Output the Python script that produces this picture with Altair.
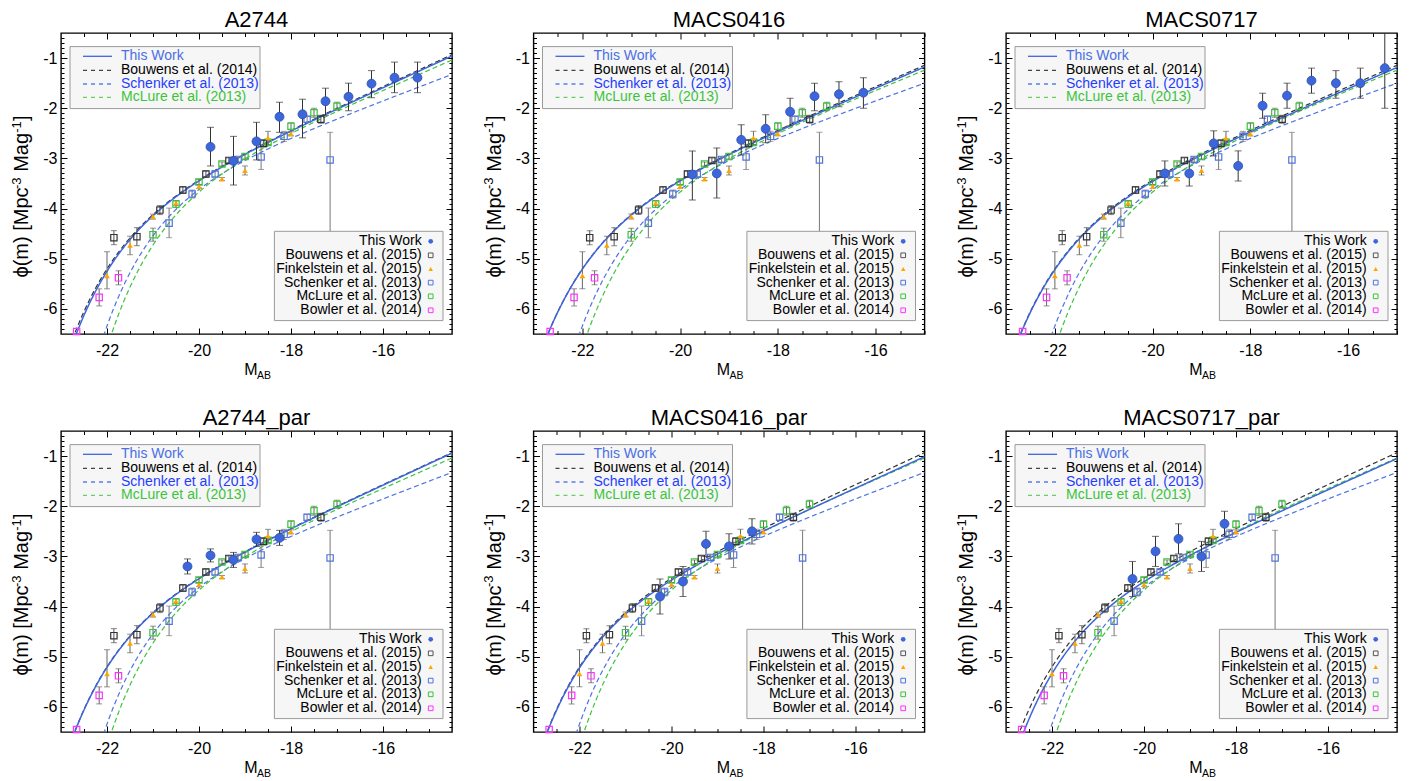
import numpy as np
import pandas as pd
import altair as alt

FONT = "Liberation Sans"
W, H = 391, 301
Y_DOM = [-6.5, -0.5]

PANELS = ["A2744", "MACS0416", "MACS0717", "A2744_par", "MACS0416_par", "MACS0717_par"]
X_MIN = [-23.0, -23.0, -23.0, -23.0, -23.0, -23.0]
X_MAX = [-14.5, -15.0, -15.0, -14.5, -14.5, -14.5]

X_MAJOR = [-22, -20, -18, -16]
X_MINOR = [-22.5, -21.5, -21, -20.5, -19.5, -19, -18.5, -17.5, -17, -16.5, -15.5, -15]
Y_MAJOR = [-6, -5, -4, -3, -2, -1]
Y_MINOR = [round(-6.4 + 0.1 * i, 1) for i in range(59)]

# ---------------- literature points (same in every panel) ----------------
B15_M = [-21.85, -21.35, -20.85, -20.35, -19.85, -19.35, -18.6, -17.35]
B15_PHI = [-4.58, -4.56, -4.03, -3.63, -3.31, -3.04, -2.70, -2.22]
B15_ERR = [0.14, 0.18, 0.09, 0.07, 0.06, 0.05, 0.07, 0.08]

F15_M = [-22.0, -21.5, -21.0, -20.5, -20.0, -19.5, -19.0, -18.5, -18.0]
F15_PHI = [-5.34, -4.73, -4.16, -3.89, -3.56, -3.41, -3.24, -2.59, -2.51]
F15_HI = [-4.86, -4.55, -4.11, -3.84, -3.52, -3.38, -3.15, -2.46, -2.47]
F15_LO = [-5.60, -4.92, -4.21, -3.94, -3.60, -3.44, -3.33, -2.73, -2.55]

S13_M = [-20.65, -20.15, -19.65, -19.15, -18.65, -18.15, -17.65, -17.15]
S13_PHI = [-4.29, -3.71, -3.31, -3.02, -2.97, -2.56, -2.22, -3.03]
S13_HI = [-3.99, -3.63, -3.25, -2.97, -2.72, -2.46, -2.16, -2.48]
S13_LO = [-4.58, -3.79, -3.37, -3.07, -3.22, -2.66, -2.28, -4.70]

M13_M = [-21.0, -20.5, -20.0, -19.5, -19.0, -18.5, -18.0, -17.5, -17.0]
M13_PHI = [-4.52, -3.91, -3.47, -3.11, -2.96, -2.68, -2.36, -2.09, -1.96]
M13_ERR = [0.13, 0.07, 0.05, 0.04, 0.05, 0.06, 0.07, 0.09, 0.08]

BO14_M = [-22.66, -22.17, -21.75]
BO14_PHI = [-6.45, -5.77, -5.38]
BO14_ERR = [0.0, 0.17, 0.14]

# ---------------- This Work points, per field ----------------
TW_M_A2744 = [-19.75, -19.25, -18.75, -18.25, -17.75, -17.25, -16.75, -16.25, -15.75, -15.25]
TW_PHI_A2744 = [-2.77, -3.05, -2.66, -2.17, -2.12, -1.86, -1.77, -1.51, -1.39, -1.39]
TW_HI_A2744 = [-2.38, -2.56, -2.28, -1.88, -1.82, -1.60, -1.50, -1.25, -1.08, -1.08]
TW_LO_A2744 = [-3.15, -3.53, -3.03, -2.48, -2.59, -2.14, -2.05, -1.79, -1.69, -1.69]

TW_M_MACS0416 = [-19.75, -19.25, -18.75, -18.25, -17.75, -17.25, -16.75, -16.25]
TW_PHI_MACS0416 = [-3.32, -3.30, -2.63, -2.41, -2.07, -1.76, -1.72, -1.69]
TW_HI_MACS0416 = [-2.85, -2.79, -2.33, -2.13, -1.80, -1.50, -1.47, -1.39]
TW_LO_MACS0416 = [-3.83, -3.79, -2.93, -2.69, -2.35, -2.05, -1.97, -2.00]

TW_M_MACS0717 = [-19.75, -19.25, -18.75, -18.25, -17.75, -17.25, -16.75, -16.25, -15.75, -15.25]
TW_PHI_MACS0717 = [-3.30, -3.30, -2.70, -3.15, -1.95, -1.75, -1.45, -1.50, -1.50, -1.20]
TW_HI_MACS0717 = [-3.05, -3.05, -2.45, -2.85, -1.70, -1.50, -1.20, -1.25, -1.20, -0.50]
TW_LO_MACS0717 = [-3.55, -3.55, -2.95, -3.45, -2.20, -2.00, -1.70, -1.80, -1.80, -2.00]

TW_M_A2744_par = [-20.25, -19.75, -19.25, -18.75, -18.25]
TW_PHI_A2744_par = [-3.20, -2.98, -3.07, -2.66, -2.63]
TW_HI_A2744_par = [-3.05, -2.85, -2.92, -2.52, -2.48]
TW_LO_A2744_par = [-3.35, -3.11, -3.22, -2.80, -2.78]

TW_M_MACS0416_par = [-20.25, -19.75, -19.25, -18.75, -18.25]
TW_PHI_MACS0416_par = [-3.80, -3.50, -2.75, -2.80, -2.50]
TW_HI_MACS0416_par = [-3.45, -3.20, -2.50, -2.55, -2.25]
TW_LO_MACS0416_par = [-4.15, -3.80, -3.00, -3.05, -2.75]

TW_M_MACS0717_par = [-20.25, -19.75, -19.25, -18.75, -18.25]
TW_PHI_MACS0717_par = [-3.45, -2.90, -2.65, -3.00, -2.35]
TW_HI_MACS0717_par = [-3.10, -2.60, -2.35, -2.70, -2.10]
TW_LO_MACS0717_par = [-3.80, -3.20, -2.95, -3.30, -2.60]

TW_M = [TW_M_A2744, TW_M_MACS0416, TW_M_MACS0717, TW_M_A2744_par, TW_M_MACS0416_par, TW_M_MACS0717_par]
TW_PHI = [TW_PHI_A2744, TW_PHI_MACS0416, TW_PHI_MACS0717, TW_PHI_A2744_par, TW_PHI_MACS0416_par, TW_PHI_MACS0717_par]
TW_HI = [TW_HI_A2744, TW_HI_MACS0416, TW_HI_MACS0717, TW_HI_A2744_par, TW_HI_MACS0416_par, TW_HI_MACS0717_par]
TW_LO = [TW_LO_A2744, TW_LO_MACS0416, TW_LO_MACS0717, TW_LO_A2744_par, TW_LO_MACS0416_par, TW_LO_MACS0717_par]

# ---------------- Schechter fits (M*, log phi*, alpha) ----------------
FIT_B14 = [-21.0, -3.65, -2.06]
FIT_S13 = [-20.14, -3.25, -1.87]
FIT_M13 = [-20.0, -3.20, -2.00]
FIT_TW = [
    [-20.95, -3.63, -2.05],
    [-21.0, -3.66, -2.05],
    [-21.0, -3.67, -2.05],
    [-21.0, -3.66, -2.06],
    [-21.0, -3.68, -2.04],
    [-20.9, -3.65, -2.03],
]

C_TW = "#3d66dc"
C_TW_EDGE = "#2c4fa8"
C_B = "#333333"
C_S = "#4f74e0"
C_M = "#3cc43c"
C_BO = "#ff33ff"
C_F = "#ffa500"

DUMMY = pd.DataFrame({"k": [0]})
YS = alt.Scale(domain=Y_DOM, nice=False, zero=False)


def xs(dom):
    return alt.Scale(domain=dom, nice=False, zero=False)


def schechter(params):
    ms, lp, a = params
    m = np.arange(-23.5, -13.98, 0.02)
    x = 10 ** (-0.4 * (m - ms))
    lphi = np.log10(0.4 * np.log(10)) + lp + (a + 1) * np.log10(x) - x / np.log(10)
    df = pd.DataFrame({"M": m, "phi": lphi})
    return df[df.phi > -8]


def xy(dom, xf="M", yf="phi"):
    return dict(x=alt.X(f"{xf}:Q", scale=xs(dom), axis=None),
                y=alt.Y(f"{yf}:Q", scale=YS, axis=None))


def curve(params, dom, color, dash=None, width=1.2):
    kw = dict(color=color, strokeWidth=width, clip=True)
    if dash:
        kw["strokeDash"] = dash
    return alt.Chart(schechter(params)).mark_line(**kw).encode(**xy(dom))


def errbars(m, phi, lo, hi, dom, color, cap=6):
    df = pd.DataFrame({"M": m, "phi": phi, "lo": lo, "hi": hi})
    df = df[df.lo != df.hi]
    rule = alt.Chart(df).mark_rule(color=color, strokeWidth=1, clip=True).encode(
        x=alt.X("M:Q", scale=xs(dom), axis=None),
        y=alt.Y("lo:Q", scale=YS, axis=None), y2="hi:Q")
    t1 = alt.Chart(df).mark_tick(color=color, orient="horizontal", size=cap, thickness=1, clip=True).encode(
        x=alt.X("M:Q", scale=xs(dom), axis=None), y=alt.Y("lo:Q", scale=YS, axis=None))
    t2 = alt.Chart(df).mark_tick(color=color, orient="horizontal", size=cap, thickness=1, clip=True).encode(
        x=alt.X("M:Q", scale=xs(dom), axis=None), y=alt.Y("hi:Q", scale=YS, axis=None))
    return [rule, t1, t2]


def pts(m, phi, dom, **mk):
    df = pd.DataFrame({"M": m, "phi": phi})
    return alt.Chart(df).mark_point(opacity=1, **mk).encode(**xy(dom))


def sym(x, y, **mk):
    return alt.Chart(DUMMY).mark_point(opacity=1, **mk).encode(x=alt.value(x), y=alt.value(y))


def txt(x, y, s, size=14, color="black", align="left", baseline="middle", angle=0):
    kw = dict(text=s, font=FONT, fontSize=size, color=color, align=align, baseline=baseline)
    if angle:
        kw["angle"] = angle
    return alt.Chart(DUMMY).mark_text(**kw).encode(x=alt.value(x), y=alt.value(y))


def box(x1, x2, y1, y2):
    return alt.Chart(DUMMY).mark_rect(fill="#f6f6f6", stroke="#9a9a9a", strokeWidth=1).encode(
        x=alt.value(x1), x2=alt.value(x2), y=alt.value(y1), y2=alt.value(y2))


def hline(x1, x2, y, color, dash=None, width=1.2):
    kw = dict(color=color, strokeWidth=width)
    if dash:
        kw["strokeDash"] = dash
    return alt.Chart(DUMMY).mark_rule(**kw).encode(x=alt.value(x1), x2=alt.value(x2), y=alt.value(y))


def axis_layer(dom, xaxis, yaxis):
    df = pd.DataFrame({"M": [dom[0]], "phi": [Y_DOM[0]]})
    return alt.Chart(df).mark_point(opacity=0, size=1).encode(
        x=alt.X("M:Q", scale=xs(dom), axis=xaxis),
        y=alt.Y("phi:Q", scale=YS, axis=yaxis))


def tick_axis(orient, values, size):
    return alt.Axis(orient=orient, values=values, ticks=True, tickSize=size, tickWidth=1,
                    tickColor="black", labels=False, domain=False, grid=False,
                    offset=-size, title=None)


# y-axis title pieces: (text, font size, raised?) and the advance to the next piece
YTITLE = [("ϕ(m) [Mpc", 20, False), ("-3", 13, True), ("Mag", 20, False), ("-1", 13, True), ("]", 20, False)]
YTITLE_ADV = [88.5, 17.2, 39.0, 11.8, 5.6]


def ytitle():
    layers = []
    y = H / 2 + 13 + sum(YTITLE_ADV) / 2
    for (s, fs, up), w in zip(YTITLE, YTITLE_ADV):
        x = -40.5 if up else -33.0
        layers.append(txt(x, y, s, fs, "black", align="left", baseline="alphabetic", angle=270))
        y -= w
    return layers


def panel(i):
    dom = [X_MIN[i], X_MAX[i]]
    L = []
    # fitted curves
    L.append(curve(FIT_S13, dom, C_S, [5, 3]))
    L.append(curve(FIT_M13, dom, C_M, [5, 3]))
    L.append(curve(FIT_B14, dom, C_B, [5, 3]))
    L.append(curve(FIT_TW[i], dom, C_TW, None, 1.5))
    # error bars of literature
    L += errbars(B15_M, B15_PHI, [p - e for p, e in zip(B15_PHI, B15_ERR)],
                 [p + e for p, e in zip(B15_PHI, B15_ERR)], dom, "#555555")
    L += errbars(F15_M, F15_PHI, F15_LO, F15_HI, dom, "#666666")
    L += errbars(S13_M, S13_PHI, S13_LO, S13_HI, dom, "#777777")
    L += errbars(M13_M, M13_PHI, [p - e for p, e in zip(M13_PHI, M13_ERR)],
                 [p + e for p, e in zip(M13_PHI, M13_ERR)], dom, "#666666")
    L += errbars(BO14_M, BO14_PHI, [p - e for p, e in zip(BO14_PHI, BO14_ERR)],
                 [p + e for p, e in zip(BO14_PHI, BO14_ERR)], dom, "#666666")
    # literature points
    L.append(pts(M13_M, M13_PHI, dom, shape="square", size=40, filled=False, color=C_M, strokeWidth=1.2))
    L.append(pts(S13_M, S13_PHI, dom, shape="square", size=40, filled=False, color=C_S, strokeWidth=1.2))
    L.append(pts(B15_M, B15_PHI, dom, shape="square", size=40, filled=False, color=C_B, strokeWidth=1.2))
    L.append(pts(BO14_M, BO14_PHI, dom, shape="square", size=40, filled=False, color=C_BO, strokeWidth=1.2))
    L.append(pts(F15_M, F15_PHI, dom, shape="triangle-up", size=32, filled=True, color=C_F))
    # This Work
    L += errbars(TW_M[i], TW_PHI[i], TW_LO[i], TW_HI[i], dom, "#333333", cap=7)
    L.append(pts(TW_M[i], TW_PHI[i], dom, shape="circle", size=80, filled=True,
                 fill=C_TW, stroke=C_TW_EDGE, strokeWidth=0.8))

    # legend of the fitted curves (top-left)
    L.append(box(9, 199, 13.6, 75.6))
    rows = [23.3, 37.3, 51.0, 64.3]
    items = [("This Work", "#4a6fe3", C_TW, None),
             ("Bouwens et al. (2014)", "black", "#444444", [4, 4]),
             ("Schenker et al. (2013)", "#1f3dff", "#5b7fe8", [4, 4]),
             ("McLure et al. (2013)", "#3cc43c", "#66d066", [4, 4])]
    for (lab, tc, lc, dash), yy in zip(items, rows):
        L.append(hline(22, 51, yy, lc, dash, 1.3))
        L.append(txt(60, yy, lab, 14, tc))

    # legend of the points (bottom-right)
    L.append(box(213.4, 382, 198.3, 287.6))
    rows2 = [208.3, 222.3, 236.0, 249.6, 263.3, 277.3]
    labs2 = ["This Work", "Bouwens et al. (2015)", "Finkelstein et al. (2015)",
             "Schenker et al. (2013)", "McLure et al. (2013)", "Bowler et al. (2014)"]
    for lab, yy in zip(labs2, rows2):
        L.append(txt(360.7, yy, lab, 14, "black", align="right"))
    mx = 369.7
    L.append(sym(mx, rows2[0], shape="circle", size=22, filled=True, color=C_TW))
    L.append(sym(mx, rows2[1], shape="square", size=22, filled=False, color="#555555", strokeWidth=1))
    L.append(sym(mx, rows2[2], shape="triangle-up", size=20, filled=True, color=C_F))
    L.append(sym(mx, rows2[3], shape="square", size=22, filled=False, color=C_S, strokeWidth=1))
    L.append(sym(mx, rows2[4], shape="square", size=22, filled=False, color=C_M, strokeWidth=1))
    L.append(sym(mx, rows2[5], shape="square", size=22, filled=False, color=C_BO, strokeWidth=1))

    # titles
    L.append(txt(W / 2, -6, PANELS[i], 22, "black", align="center", baseline="alphabetic"))
    L.append(txt(196.5, H + 41.3, "M", 16, "black", align="right", baseline="alphabetic"))
    L.append(txt(196, H + 44.6, "AB", 10.5, "black", align="left", baseline="alphabetic"))
    L += ytitle()

    # axes
    lab_x = alt.Axis(orient="bottom", values=X_MAJOR, ticks=False, tickSize=0, domain=False, grid=False,
                     labelFontSize=16, labelFont=FONT, labelColor="black", labelPadding=8.5,
                     labelExpr="'' + datum.value", title=None)
    lab_y = alt.Axis(orient="left", values=Y_MAJOR, ticks=False, tickSize=0, domain=False, grid=False,
                     labelFontSize=16, labelFont=FONT, labelColor="black", labelPadding=4,
                     labelExpr="'' + datum.value", title=None)
    L.append(axis_layer(dom, lab_x, lab_y))
    L.append(axis_layer(dom, tick_axis("bottom", X_MAJOR, 6), tick_axis("left", Y_MAJOR, 6)))
    L.append(axis_layer(dom, tick_axis("bottom", X_MINOR, 3.5), tick_axis("left", Y_MINOR, 3)))
    L.append(axis_layer(dom, tick_axis("top", X_MAJOR, 6), tick_axis("right", Y_MAJOR, 6)))
    L.append(axis_layer(dom, tick_axis("top", X_MINOR, 3.5), tick_axis("right", Y_MINOR, 3)))

    return alt.layer(*L).resolve_axis(x="independent", y="independent").properties(width=W, height=H)


chart = alt.concat(*[panel(i) for i in range(6)], columns=3,
                   spacing={"row": 97, "column": 81.5}, bounds="flush").properties(
    padding={"left": 1, "top": 0, "right": 5, "bottom": 5}, background="white"
).configure_view(stroke="black", strokeWidth=1.4).configure_text(font=FONT)

chart.save("out.html", embed_options={"renderer": "svg", "actions": False})
